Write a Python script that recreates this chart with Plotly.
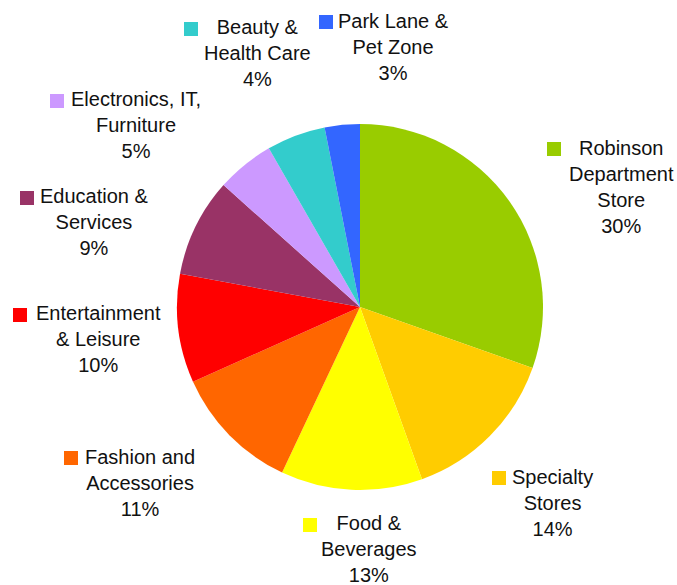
import plotly.graph_objects as go

W, H = 677, 585

categories = ["Robinson<br>Department<br>Store", "Specialty<br>Stores", "Food &<br>Beverages",
              "Fashion and<br>Accessories", "Entertainment<br>& Leisure", "Education &<br>Services",
              "Electronics, IT,<br>Furniture", "Beauty &<br>Health Care", "Park Lane &<br>Pet Zone"]
values = [30.4, 14.1, 12.5, 11.3, 9.6, 8.7, 5.1, 5.2, 3.1]
pct_labels = ["30%", "14%", "13%", "11%", "10%", "9%", "5%", "4%", "3%"]
colors = ["#99CC00", "#FFCC00", "#FFFF00", "#FF6600", "#FF0000", "#993366",
          "#CC99FF", "#33CCCC", "#3366FF"]

# label layout (pixels): text centre x, block centre y, marker square left/top
label_pos = [(621, 187), (552, 503), (369, 549), (140, 483), (98, 339),
             (94, 222), (136, 125), (257, 53), (393, 47)]
marker_pos = [(547, 142), (492, 471), (303, 518), (64, 451), (13, 308),
              (20, 191), (50, 94), (184, 22), (319, 15)]
SQ = 14

cx, cy, r = 360, 307, 183

fig = go.Figure(go.Pie(
    labels=[c.replace("<br>", " ") for c in categories],
    values=values,
    sort=False,
    direction="clockwise",
    rotation=0,
    textinfo="none",
    hoverinfo="label+percent",
    marker=dict(colors=colors, line=dict(width=0)),
    domain=dict(x=[(cx - r) / W, (cx + r) / W], y=[1 - (cy + r) / H, 1 - (cy - r) / H]),
))

annotations = []
shapes = []
for cat, pct, (tx, ty), (mx, my), col in zip(categories, pct_labels, label_pos, marker_pos, colors):
    annotations.append(dict(
        x=tx / W, y=1 - ty / H, xref="paper", yref="paper",
        text=f"{cat}<br>{pct}", showarrow=False, align="center",
        xanchor="center", yanchor="middle",
        font=dict(family="Liberation Sans, Arial, sans-serif", size=20, color="#111111"),
    ))
    shapes.append(dict(
        type="rect", xref="paper", yref="paper",
        x0=mx / W, x1=(mx + SQ) / W, y0=1 - (my + SQ) / H, y1=1 - my / H,
        fillcolor=col, line=dict(width=0),
    ))

fig.update_layout(
    width=W, height=H,
    margin=dict(l=0, r=0, t=0, b=0),
    paper_bgcolor="white", plot_bgcolor="white",
    showlegend=False,
    annotations=annotations,
    shapes=shapes,
)

fig.write_html("out.html")
